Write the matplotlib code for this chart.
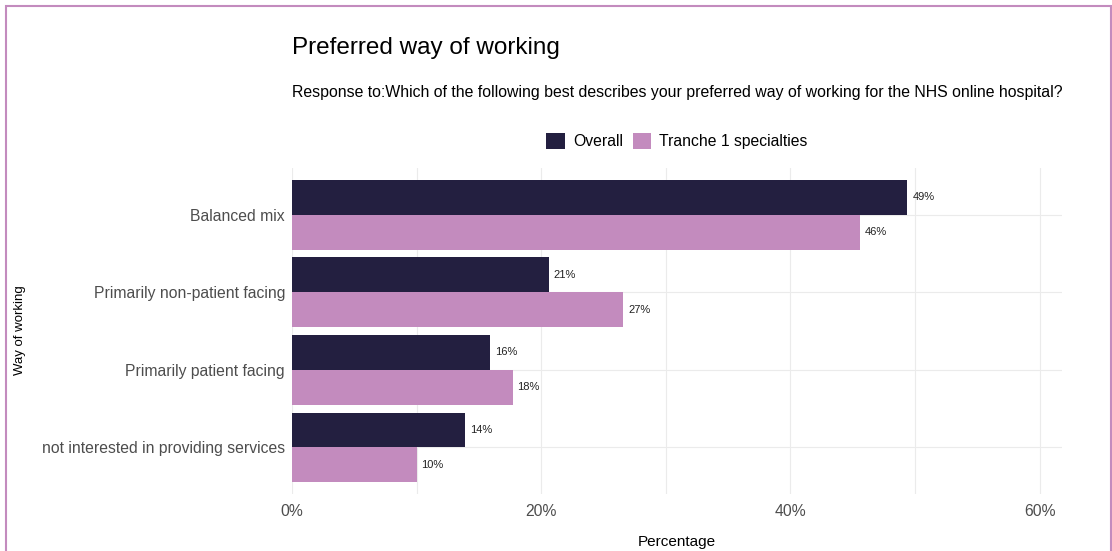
import matplotlib
matplotlib.use("Agg")
import matplotlib.pyplot as plt
from matplotlib.patches import Rectangle
import numpy as np

plt.rcParams['font.family'] = ['Liberation Sans', 'DejaVu Sans']

# data
categories = ["Balanced mix", "Primarily non-patient facing",
              "Primarily patient facing", "not interested in providing services"]
overall = [49.4, 20.6, 15.9, 13.9]
tranche = [45.6, 26.6, 17.7, 10.0]
series_names = ["Overall", "Tranche 1 specialties"]
x_ticks = [0, 20, 40, 60]

dark = "#231F40"
pink = "#C38BBE"

fig = plt.figure(figsize=(11.12, 5.51), dpi=100)
ax = fig.add_axes([0.2626, 0.1034, 0.6924, 0.5916])

pos = np.arange(len(categories))
h = 0.45
b1 = ax.barh(pos - h / 2, overall, height=h, color=dark, label=series_names[0], zorder=2)
b2 = ax.barh(pos + h / 2, tranche, height=h, color=pink, label=series_names[1], zorder=2)

for bars, vals in ((b1, overall), (b2, tranche)):
    for bar, v in zip(bars, vals):
        ax.annotate(f"{round(v):.0f}%", (bar.get_width(), bar.get_y() + bar.get_height() / 2),
                    xytext=(3.5, 0), textcoords="offset points", va="center", ha="left",
                    fontsize=8, color="#222222")

ax.set_xlim(0, 61.8)
ax.set_ylim(3.6, -0.6)
ax.set_yticks(pos)
ax.set_yticklabels(categories, fontsize=11.3, color="#4D4D4D")
ax.set_xticks(x_ticks)
ax.set_xticklabels([f"{t}%" for t in x_ticks], fontsize=11.3, color="#4D4D4D")
ax.set_xticks([10, 30, 50], minor=True)
ax.tick_params(axis="both", which="both", length=0, pad=5)
ax.tick_params(axis="x", pad=7)
ax.grid(True, which="both", axis="x", color="#EBEBEB", lw=0.8, zorder=0)
ax.grid(True, axis="y", color="#EBEBEB", lw=0.8, zorder=0)
for s in ax.spines.values():
    s.set_visible(False)

ax.set_xlabel("Percentage", fontsize=11, labelpad=12)
fig.text(20 / 1112, 0.40, "Way of working", rotation=90, fontsize=9.5, ha="center", va="center")

fig.text(292 / 1112, 1 - 48 / 551, "Preferred way of working", fontsize=17.5, va="center", ha="left")
fig.text(292 / 1112, 1 - 93 / 551,
         "Response to:Which of the following best describes your preferred way of working for the NHS online hospital?",
         fontsize=11.4, va="center", ha="left")

fig.legend(handles=[b1, b2], loc="center", bbox_to_anchor=(677 / 1112, 1 - 141 / 551),
           ncol=2, frameon=False, fontsize=11.3, handlelength=1.2, handleheight=1.2,
           handletextpad=0.5, columnspacing=0.6)

# outer frame
fig.patches.append(Rectangle((6 / 1112, -0.05), 1105 / 1112, 1.05 - 6 / 551,
                             transform=fig.transFigure, fill=False, edgecolor=pink, lw=1.5))

fig.savefig("out.png", dpi=100)
